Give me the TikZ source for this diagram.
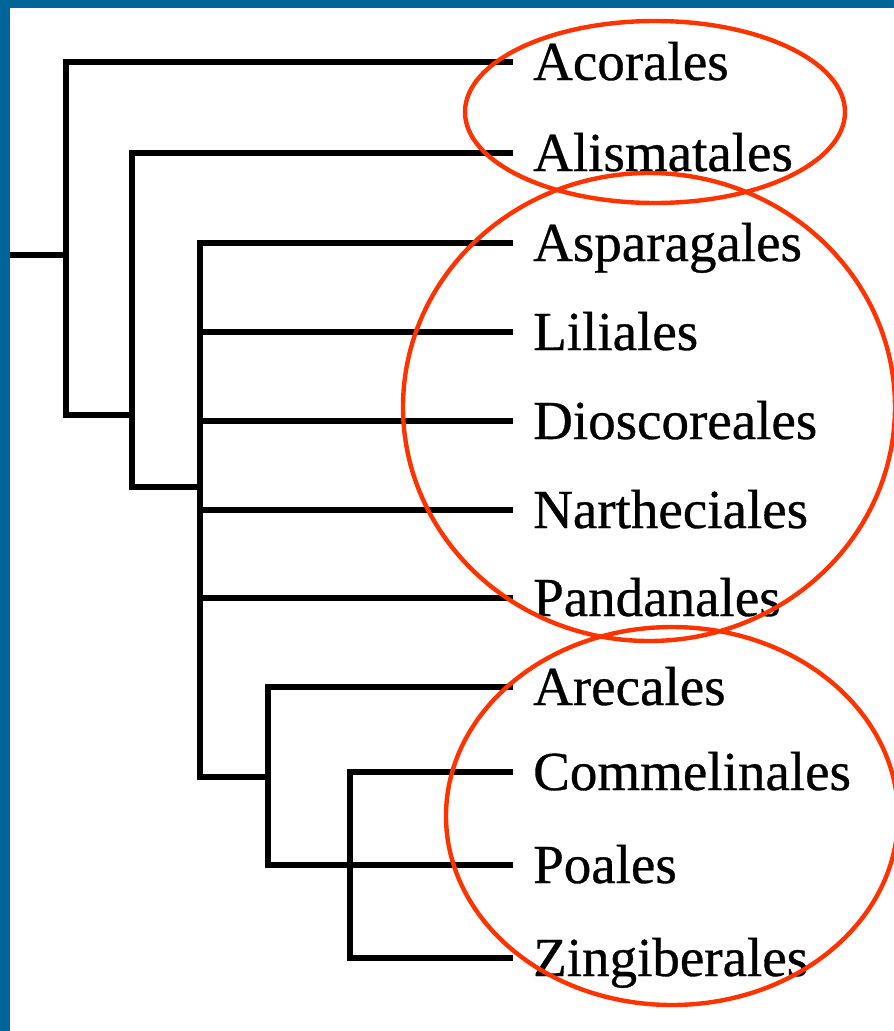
\documentclass[tikz,border=0pt]{standalone}
\usepackage{fontspec}
\setmainfont{Liberation Serif}
\newfontfamily\leaffont{Liberation Serif}[FakeBold=0.6]
\definecolor{framecol}{RGB}{0,102,153}
\definecolor{ringcol}{RGB}{255,51,0}
\tikzset{
  tree/.style={line width=5.4pt, black, line join=miter},
  ring/.style={line width=4.4pt, ringcol},
  leaf/.style={anchor=base west, inner sep=0pt, font=\leaffont\fontsize{55}{60}\selectfont},
}
\begin{document}
\begin{tikzpicture}[x=1pt,y=-1pt]
\useasboundingbox (0,0) rectangle (894,1031);
\fill[white] (0,0) rectangle (894,1031);
\fill[framecol] (0,0) rectangle (894,8);
\fill[framecol] (0,0) rectangle (10,1031);

% leaf labels
\node[leaf] (aco) at (533,80) {Acorales};
\node[leaf] (ali) at (533,171) {Alismatales};
\node[leaf] (asp) at (533,261) {Asparagales};
\node[leaf] (lil) at (533,350) {Liliales};
\node[leaf] (dio) at (533,439) {Dioscoreales};
\node[leaf] (nar) at (533,528) {Nartheciales};
\node[leaf] (pan) at (533,616) {Pandanales};
\node[leaf] (are) at (533,705) {Arecales};
\node[leaf] (com) at (533,790) {Commelinales};
\node[leaf] (poa) at (533,883) {Poales};
\node[leaf] (zin) at (533,976) {Zingiberales};

% leaf line ends
\coordinate (taco) at (513,62);
\coordinate (tali) at (513,153);
\coordinate (tasp) at (513,243);
\coordinate (tlil) at (513,332);
\coordinate (tdio) at (513,421);
\coordinate (tnar) at (513,510);
\coordinate (tpan) at (513,598);
\coordinate (tare) at (513,687);
\coordinate (tcom) at (513,772);
\coordinate (tpoa) at (513,865);
\coordinate (tzin) at (513,958);

% internal nodes
\coordinate (root) at (10,255);
\coordinate (na) at (66,255);
\coordinate (nabot) at (66,415);
\coordinate (nb) at (132,415);
\coordinate (nbbot) at (132,487);
\coordinate (nc) at (200,487);
\coordinate (ncbot) at (200,777);
\coordinate (nd) at (268,777);
\coordinate (ndbot) at (268,865);
\coordinate (nebot) at (350,958);

\draw[tree] (root) -- (na);
\draw[tree] (taco) -| (nabot) -- (nb);
\draw[tree] (tali) -| (nbbot) -- (nc);
\draw[tree] (tasp) -| (ncbot) -- (nd);
\draw[tree] (tare) -| (ndbot) -- (tpoa);
\draw[tree] (tcom) -| (nebot) -- (tzin);
\draw[tree] (tlil) -- (tlil -| nc);
\draw[tree] (tdio) -- (tdio -| nc);
\draw[tree] (tnar) -- (tnar -| nc);
\draw[tree] (tpan) -- (tpan -| nc);

% rings
\draw[ring] (655,112) ellipse [x radius=190, y radius=91];
\draw[ring] (649,407) ellipse [x radius=246, y radius=234];
\draw[ring] (672,816) ellipse [x radius=226, y radius=189];
\end{tikzpicture}
\end{document}
